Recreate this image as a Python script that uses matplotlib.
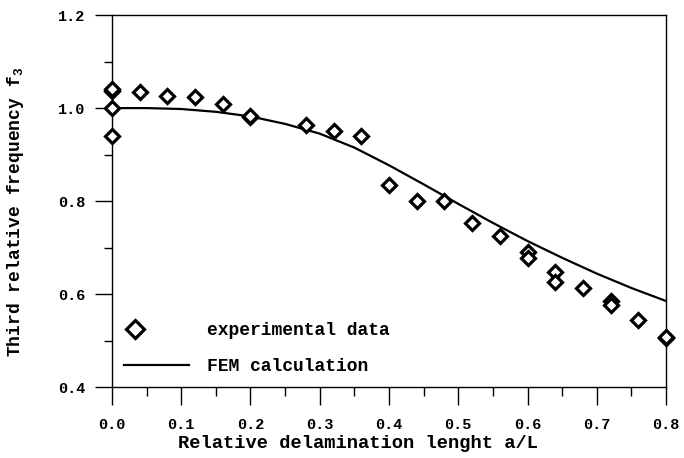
import matplotlib
matplotlib.use("Agg")
import matplotlib.pyplot as plt
from matplotlib.ticker import MultipleLocator, FormatStrFormatter
from matplotlib.legend_handler import HandlerLine2D

plt.rcParams['font.family'] = ['Liberation Mono', 'DejaVu Sans Mono']
plt.rcParams['font.weight'] = 'bold'
plt.rcParams['mathtext.default'] = 'regular'

# experimental data
exp_x = [0.0, 0.0, 0.0, 0.0, 0.04, 0.08, 0.12, 0.16, 0.20, 0.20, 0.28, 0.32, 0.36,
         0.40, 0.44, 0.48, 0.52, 0.56, 0.60, 0.60, 0.64, 0.64, 0.68, 0.72, 0.72,
         0.76, 0.80, 0.80]
exp_y = [1.037, 1.040, 1.000, 0.940, 1.034, 1.026, 1.024, 1.009, 0.981, 0.984, 0.963,
         0.951, 0.940, 0.834, 0.800, 0.800, 0.753, 0.725, 0.690, 0.678, 0.647, 0.626,
         0.613, 0.585, 0.577, 0.544, 0.505, 0.508]

# FEM calculation
fem_x = [0.0, 0.05, 0.10, 0.15, 0.20, 0.25, 0.30, 0.35, 0.40, 0.45, 0.50,
         0.55, 0.60, 0.65, 0.70, 0.75, 0.80]
fem_y = [1.000, 1.000, 0.998, 0.992, 0.982, 0.966, 0.945, 0.915, 0.877, 0.836,
         0.794, 0.753, 0.714, 0.678, 0.644, 0.613, 0.585]


class LeftMarkerHandler(HandlerLine2D):
    def create_artists(self, legend, orig_handle, xdescent, ydescent, width,
                       height, fontsize, trans):
        arts = super().create_artists(legend, orig_handle, xdescent, ydescent,
                                      width, height, fontsize, trans)
        for a in arts:
            xd = list(a.get_xdata())
            if len(xd) == 3:
                xd[1] = xd[0] + 0.18 * (xd[2] - xd[0])
                a.set_xdata(xd)
        return arts


fig = plt.figure(figsize=(6.84, 4.58), dpi=100)
ax = fig.add_axes([0.1637, 0.155, 0.81, 0.812])

ln, = ax.plot(fem_x, fem_y, color='black', lw=1.6, label='FEM calculation', zorder=2)
pts, = ax.plot(exp_x, exp_y, linestyle='none', marker='D', ms=7, mew=2.3,
               mfc='white', mec='black', label='experimental data', zorder=3, clip_on=False)

ax.set_xlim(0, 0.8)
ax.set_ylim(0.4, 1.2)
ax.xaxis.set_major_locator(MultipleLocator(0.1))
ax.xaxis.set_minor_locator(MultipleLocator(0.05))
ax.yaxis.set_major_locator(MultipleLocator(0.2))
ax.yaxis.set_minor_locator(MultipleLocator(0.1))
ax.xaxis.set_major_formatter(FormatStrFormatter('%.1f'))
ax.yaxis.set_major_formatter(FormatStrFormatter('%.1f'))

ax.tick_params(which='major', direction='out', length=13, width=1, labelsize=11, pad=9)
ax.tick_params(which='minor', direction='out', length=6.5, width=1)
ax.tick_params(axis='y', which='major', length=12, pad=7)
ax.tick_params(axis='y', which='minor', length=5.5)
for s in ax.spines.values():
    s.set_linewidth(1)

ax.set_xlabel('Relative delamination lenght a/L', fontsize=13.5, fontweight='bold')
ax.xaxis.set_label_coords(0.444, -0.13)
ax.set_ylabel('Third relative frequency f$_3$', fontsize=13, fontweight='bold')
ax.yaxis.set_label_coords(-0.155, 0.47)

leg = ax.legend([pts, ln], ['experimental data', 'FEM calculation'], frameon=False,
                loc='lower left', bbox_to_anchor=(-0.008, -0.012), fontsize=13,
                handlelength=3.6, markerscale=1.3, labelspacing=1.05, handletextpad=1.0,
                handler_map={pts: LeftMarkerHandler(numpoints=1)})

fig.savefig('out.png', dpi=100)
